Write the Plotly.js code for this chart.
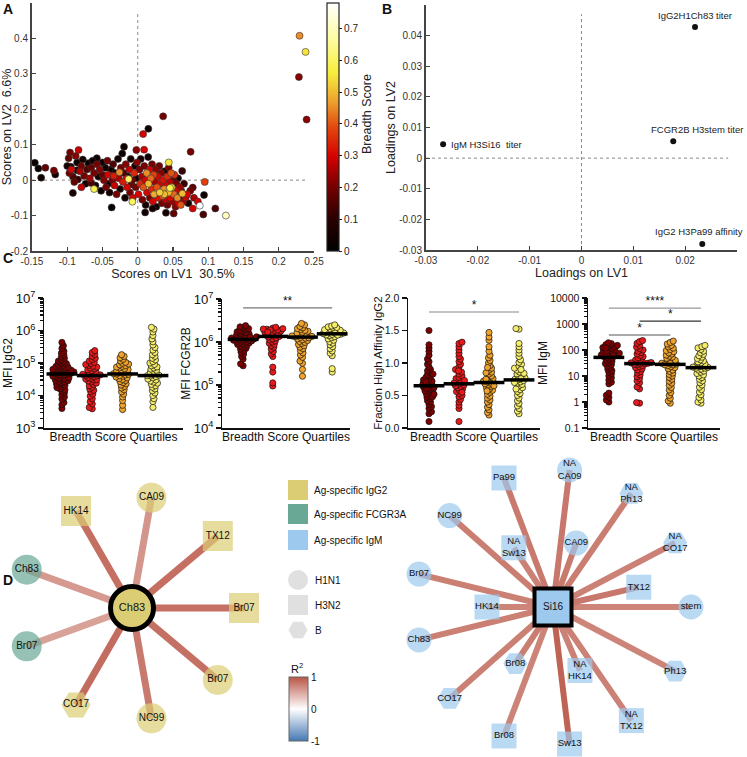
<!DOCTYPE html>
<html><head><meta charset="utf-8">
<script src="https://cdn.plot.ly/plotly-3.0.1.min.js"></script>
<style>html,body{margin:0;padding:0;background:#fff}#chart{width:747px;height:757px}</style>
</head><body><div id="chart"></div>
<script>
// ---------------- Panel A data (scores, breadth score) ----------------
const lv1Scores = [0.2295,0.238,0.2286,0.2395,0.036,0.015,0.0076,-0.0195,0.075,0.009,-0.002,-0.084,-0.096,-0.146,-0.141,-0.131,-0.119,-0.117,-0.137,-0.092,-0.062,-0.037,-0.0076,0.0105,0.021,0.088,0.095,0.094,0.093,0.11,0.125,0.078,0.078,0.063,0.044,0.068,0.051,0.04,
-0.098,-0.1,-0.095,-0.097,-0.092,-0.094,-0.088,-0.086,-0.09,-0.085,-0.082,-0.08,-0.078,-0.076,-0.074,-0.072,-0.07,-0.068,-0.066,-0.064,-0.062,-0.06,-0.058,-0.056,-0.054,-0.052,-0.05,-0.05,-0.086,-0.08,-0.066,-0.058,
-0.048,-0.046,-0.045,-0.043,-0.042,-0.04,-0.038,-0.036,-0.035,-0.033,-0.032,-0.03,-0.028,-0.027,-0.025,-0.024,-0.022,-0.021,-0.02,-0.018,-0.017,-0.015,-0.014,-0.012,-0.011,-0.01,-0.008,-0.007,-0.005,-0.004,-0.003,-0.002,-0.001,-0.042,-0.034,-0.016,-0.009,-0.026,-0.013,
0.001,0.0025,0.0035,0.0042,0.0058,0.0066,0.0079,0.0093,0.0104,0.0112,0.0127,0.0131,0.0148,0.0152,0.0167,0.0171,0.0185,0.0196,0.0203,0.0214,0.0226,0.0232,0.0241,0.0257,0.0263,0.0272,0.0286,0.0291,0.0305,0.0312,0.0318,0.0334,0.0342,0.0355,0.0359,0.0374,0.0381,0.0393,0.0402,0.0417,0.0421,0.0436,0.0439,0.0453,0.0461,0.0474,0.0482,0.0488,0.0503,0.0512,0.0519,0.0535,0.0541,0.0548,0.0562,0.0571,0.0579,0.0594,0.0604,0.0617,0.0643,0.0656,0.0702,0.0718,0.0745,0.0797,0.0852,0.0611,0.0632,0.0458,0.0377];
const lv2Scores = [0.4075,0.362,0.291,0.171,0.18,0.145,0.13,0.094,0.08,0.086,0.085,0.085,0.078,0.049,0.033,0.035,0.027,0.016,0.007,-0.036,-0.025,-0.077,-0.061,-0.091,-0.08,-0.072,-0.005,-0.042,-0.097,-0.08,-0.1,-0.08,-0.021,0.026,0.05,-0.049,-0.094,-0.092,
0.062,0.04,0.038,0.02,0.01,0.03,0.068,0.05,-0.005,0.002,0.025,0.04,0.058,0.012,-0.01,0.03,0.048,0.005,0.035,0.055,0.02,-0.015,0.045,0.01,0.03,-0.03,0.05,0.015,0.028,-0.02,-0.008,0.062,
0.0,0.035,-0.02,0.055,0.015,-0.035,0.03,0.0,0.045,-0.015,0.02,-0.04,0.06,0.005,-0.025,0.035,0.075,-0.005,0.02,-0.05,0.045,-0.02,0.01,0.03,-0.035,0.06,0.0,-0.05,0.02,0.04,-0.02,0.005,0.05,-0.01,0.012,0.004,-0.012,0.022,0.003,
-0.04,0.03,-0.01,0.06,0.01,-0.055,-0.02,0.04,0.0,-0.07,0.02,-0.035,0.065,-0.01,0.03,-0.05,0.005,-0.025,0.045,-0.06,0.015,-0.04,-0.005,0.03,-0.075,-0.02,0.01,-0.05,0.04,-0.035,-0.01,0.02,-0.065,-0.045,0.0,-0.025,0.025,-0.055,-0.015,0.01,-0.07,-0.035,0.035,-0.005,-0.05,0.02,-0.02,-0.06,0.0,-0.04,0.015,-0.075,-0.03,-0.01,-0.05,0.005,-0.065,-0.02,-0.045,-0.03,-0.06,-0.01,-0.04,-0.065,-0.03,-0.05,-0.06,-0.07,-0.038,-0.022,-0.04];
const breadthScores = [0.45,0.55,0.22,0.22,0.2,0.03,0.3,0.03,0.2,0.3,0.22,0.28,0.2,0.02,0.03,0.18,0.2,0.05,0.04,0.05,0.58,0.03,0.6,0.04,0.05,0.78,0.38,0.03,0.15,0.15,0.7,0.3,0.17,0.12,0.55,0.3,0.18,0.05,
0.18,0.05,0.04,0.2,0.15,0.3,0.22,0.03,0.18,0.12,0.25,0.2,0.05,0.2,0.05,0.15,0.03,0.25,0.18,0.04,0.2,0.05,0.2,0.04,0.22,0.03,0.05,0.18,0.03,0.28,0.15,0.03,
0.22,0.04,0.2,0.2,0.3,0.05,0.03,0.2,0.15,0.28,0.04,0.2,0.04,0.25,0.05,0.2,0.03,0.33,0.15,0.04,0.22,0.3,0.04,0.28,0.2,0.05,0.2,0.3,0.35,0.04,0.2,0.03,0.22,0.04,0.33,0.3,0.18,0.45,0.6,
0.3,0.2,0.35,0.05,0.25,0.2,0.4,0.2,0.3,0.05,0.45,0.3,0.04,0.5,0.3,0.2,0.42,0.35,0.2,0.3,0.38,0.48,0.25,0.22,0.04,0.4,0.3,0.32,0.2,0.52,0.3,0.22,0.2,0.4,0.32,0.45,0.05,0.28,0.3,0.35,0.2,0.5,0.2,0.28,0.3,0.4,0.55,0.25,0.18,0.42,0.35,0.22,0.3,0.2,0.45,0.05,0.3,0.25,0.04,0.2,0.25,0.12,0.3,0.05,0.2,0.25,0.3,0.4,0.5,0.58,0.5];
const breadthTicks = [0,0.1,0.2,0.3,0.4,0.5,0.6,0.7];

// ---------------- Panel B data (loadings) ----------------
const loadingNames = ['IgG2H1Ch83 titer','FCGR2B H3stem titer','IgM H3Si16\u00a0 titer','IgG2 H3Pa99 affinity'];
const loadingLV1 = [0.0219,0.0177,-0.0267,0.0233];
const loadingLV2 = [0.0428,0.0055,0.0045,-0.028];

// ---------------- Panel C data ----------------
const quartileNames = ['Q1','Q2','Q3','Q4'];
const igg2Q1 = [4.0e3,5.2e3,6.1e3,7.8e3,9.0e3,1.05e4,1.2e4,1.35e4,1.5e4,1.6e4,1.75e4,1.9e4,2.05e4,2.2e4,2.3e4,2.5e4,2.6e4,2.7e4,2.85e4,3.0e4,3.2e4,3.3e4,3.4e4,3.5e4,3.7e4,3.9e4,4.1e4,4.3e4,4.4e4,4.6e4,4.7e4,4.8e4,5.0e4,5.2e4,5.3e4,5.5e4,5.6e4,5.8e4,6.0e4,6.1e4,6.4e4,6.6e4,6.8e4,7.1e4,7.5e4,7.8e4,8.0e4,8.6e4,9.2e4,9.6e4,1.0e5,1.08e5,1.15e5,1.25e5,1.4e5,1.55e5,1.75e5,2.0e5,2.3e5,2.8e5,3.4e5,4.3e5];
const igg2Q2 = [3.9e3,4.3e3,5.5e3,6.5e3,8.0e3,9.5e3,1.1e4,1.3e4,1.45e4,1.6e4,1.8e4,2.0e4,2.2e4,2.4e4,2.6e4,2.8e4,3.0e4,3.1e4,3.2e4,3.4e4,3.6e4,3.8e4,4.0e4,4.1e4,4.2e4,4.3e4,4.5e4,4.8e4,5.1e4,5.4e4,5.8e4,6.2e4,6.6e4,7.0e4,7.5e4,8.0e4,8.5e4,9.0e4,9.7e4,1.05e5,1.15e5,1.28e5,1.4e5,1.6e5,1.85e5,2.1e5,2.4e5];
const igg2Q3 = [3.7e3,5.0e3,7.0e3,9.0e3,1.1e4,1.3e4,1.5e4,1.7e4,1.9e4,2.1e4,2.3e4,2.5e4,2.7e4,2.9e4,3.1e4,3.3e4,3.5e4,3.7e4,3.9e4,4.1e4,4.3e4,4.5e4,4.6e4,4.7e4,4.9e4,5.1e4,5.4e4,5.7e4,6.0e4,6.3e4,6.7e4,7.1e4,7.5e4,7.9e4,8.3e4,8.8e4,9.3e4,9.8e4,1.05e5,1.15e5,1.3e5,1.45e5,1.6e5,1.8e5];
const igg2Q4 = [4.3e3,6.5e3,8.0e3,1.0e4,1.2e4,1.4e4,1.6e4,1.8e4,2.0e4,2.2e4,2.4e4,2.6e4,2.8e4,3.0e4,3.2e4,3.5e4,3.8e4,4.0e4,4.1e4,4.2e4,4.5e4,4.8e4,5.2e4,5.6e4,6.0e4,6.5e4,7.0e4,7.6e4,8.2e4,9.0e4,1.0e5,1.1e5,1.25e5,1.4e5,1.6e5,1.8e5,2.1e5,2.5e5,3.0e5,3.6e5,4.5e5,5.5e5,7.0e5,9.0e5,1.1e6,1.25e6];
const igg2Medians = [4.6e4,4.1e4,4.6e4,4.1e4];

const fcgr2bQ1 = [2.8e5,3.1e5,4.0e5,4.6e5,5.2e5,5.8e5,6.3e5,6.8e5,7.2e5,7.6e5,8.0e5,8.4e5,8.8e5,9.2e5,9.5e5,9.8e5,1.0e6,1.03e6,1.06e6,1.09e6,1.12e6,1.15e6,1.18e6,1.21e6,1.24e6,1.28e6,1.32e6,1.36e6,1.4e6,1.45e6,1.5e6,1.55e6,1.6e6,1.66e6,1.72e6,1.8e6,1.88e6,1.96e6,2.05e6,2.15e6,2.25e6,2.4e6,1.1e6,1.2e6,1.3e6];
const fcgr2bQ2 = [9.5e4,1.12e5,2.0e5,2.6e5,4.6e5,5.3e5,6.0e5,6.8e5,7.5e5,8.2e5,8.8e5,9.4e5,1.0e6,1.06e6,1.12e6,1.18e6,1.24e6,1.3e6,1.35e6,1.4e6,1.45e6,1.5e6,1.56e6,1.62e6,1.68e6,1.74e6,1.8e6,1.86e6,1.92e6,1.98e6,2.04e6,2.1e6,2.2e6,1.9e6,2.0e6,1.7e6];
const fcgr2bQ3 = [1.6e5,2.3e5,3.2e5,3.6e5,4.4e5,5.0e5,5.6e5,6.3e5,7.0e5,7.6e5,8.2e5,8.8e5,9.3e5,9.8e5,1.03e6,1.08e6,1.13e6,1.18e6,1.23e6,1.28e6,1.33e6,1.38e6,1.44e6,1.5e6,1.56e6,1.63e6,1.7e6,1.78e6,1.86e6,1.95e6,2.05e6,2.15e6,2.3e6,2.5e6,2.7e6,1.25e6,1.35e6];
const fcgr2bQ4 = [2.0e5,2.4e5,4.8e5,5.5e5,6.2e5,7.0e5,7.8e5,8.6e5,9.4e5,1.02e6,1.1e6,1.18e6,1.26e6,1.33e6,1.4e6,1.46e6,1.52e6,1.57e6,1.62e6,1.67e6,1.72e6,1.77e6,1.82e6,1.88e6,1.94e6,2.0e6,2.08e6,2.16e6,2.25e6,2.35e6,2.5e6,1.5e6,1.6e6,1.45e6];
const fcgr2bMedians = [1.15e6,1.35e6,1.3e6,1.55e6];

const affinityQ1 = [0.1,0.22,0.25,0.3,0.33,0.36,0.4,0.42,0.45,0.47,0.5,0.52,0.54,0.56,0.58,0.6,0.62,0.63,0.65,0.67,0.68,0.7,0.72,0.74,0.76,0.78,0.8,0.82,0.85,0.88,0.9,0.94,0.98,1.02,1.06,1.12,1.18,1.23,1.28,1.5,0.57,0.61,0.66,0.71,0.48,0.52,0.83];
const affinityQ2 = [0.1,0.3,0.35,0.4,0.44,0.48,0.5,0.53,0.56,0.58,0.6,0.62,0.64,0.66,0.68,0.7,0.72,0.74,0.76,0.78,0.8,0.83,0.86,0.9,0.94,0.98,1.02,1.06,1.1,1.15,1.2,1.25,1.3,1.32,0.65,0.69,0.73,0.55,0.88];
const affinityQ3 = [0.2,0.24,0.28,0.32,0.36,0.4,0.43,0.46,0.49,0.52,0.55,0.58,0.6,0.62,0.64,0.66,0.68,0.7,0.72,0.74,0.76,0.78,0.8,0.83,0.86,0.89,0.92,0.96,1.0,1.04,1.08,1.12,1.18,1.25,1.35,1.4,1.47,0.69,0.71,0.75,0.65,0.57,0.85,0.93];
const affinityQ4 = [0.22,0.26,0.3,0.34,0.38,0.42,0.46,0.5,0.53,0.56,0.59,0.62,0.65,0.67,0.69,0.71,0.73,0.75,0.77,0.79,0.81,0.83,0.86,0.89,0.92,0.95,0.98,1.01,1.05,1.1,1.15,1.2,1.25,1.3,1.52,1.53,0.74,0.76,0.7,0.6,0.84,0.9];
const affinityMedians = [0.65,0.68,0.70,0.74];

const igmQ1 = [1.0,1.2,1.5,1.8,2.2,5.0,5.8,7.0,8.5,10,12,14,16,18,21,24,27,30,33,36,40,44,48,52,56,60,65,70,75,80,86,92,100,108,116,125,135,145,160,175,190,62,68,90,120,150];
const igmQ2 = [0.9,0.95,3.2,3.8,5.5,6.5,8.0,9.5,11,13,15,17,19,21,23,25,27,29,31,33,35,38,41,45,50,56,62,70,80,90,100,115,130,150,180,210,230,28,30,32];
const igmQ3 = [0.9,1.1,1.4,1.8,2.3,2.9,3.6,4.4,5.3,6.3,7.5,8.8,10,11.5,13,15,17,19,21,23,25,27,29,31,34,37,40,44,48,53,58,64,70,78,86,95,105,118,132,150,170,195,220,27,30];
const igmQ4 = [0.9,1.0,1.2,1.5,1.9,2.4,3.0,3.7,4.5,5.5,6.5,7.5,8.7,10,11,12.5,14,15.5,17,18.5,20,21.5,23,25,27,29,32,35,38,42,47,53,60,68,78,90,105,120,135,150,20,22];
const igmMedians = [52,30,28,21];

// ---------------- Panel D data ----------------
const leftHubLabel = 'Ch83';
const leftLabels = ['HK14','CA09','TX12','Br07','Br07','NC99','CO17','Br07','Ch83'];
const leftAssay = ['IgG2','IgG2','IgG2','IgG2','IgG2','IgG2','IgG2','FCGR3A','FCGR3A'];
const leftStrain = ['H3N2','H1N1','H3N2','H3N2','H1N1','H1N1','B','H1N1','H1N1'];
const leftR2 = [0.85,0.62,0.85,0.84,0.84,0.78,0.86,0.55,0.6];
const rightHubLabel = 'Si16';
const rightLabels = ['stem','NA<br>CO17','NA<br>Ph13','NA<br>CA09','Pa99','NC99','Br07','Ch83','CO17','Br08','Sw13','NA<br>TX12','Ph13','TX12','CA09','NA<br>Sw13','HK14','Br08','NA<br>HK14'];
const rightStrain = ['H1N1','B','B','H1N1','H3N2','H1N1','H1N1','H1N1','B','H3N2','H3N2','H3N2','B','H3N2','H1N1','H3N2','H3N2','B','H3N2'];
const rightR2 = [0.72,0.74,0.76,0.8,0.78,0.76,0.75,0.75,0.75,0.73,0.92,0.74,0.72,0.8,0.78,0.74,0.72,0.76,0.74];
const assayNames = ['Ag-specific IgG2','Ag-specific FCGR3A','Ag-specific IgM'];
const strainNames = ['H1N1','H3N2','B'];

// ---------------- styling / layout helpers ----------------
const W = 747, H = 757;
const FONT = 'Liberation Sans, Arial, sans-serif';
const dom = (a,b) => [a/W, b/W];
const vdom = (top,bot) => [1-bot/H, 1-top/H];
const assayColor = {IgG2:'#dbcd74', FCGR3A:'#6aa896', IgM:'#9dc9ee'};
const strainSymbol = {H1N1:'circle', H3N2:'square', B:'hexagon2'};
const quartileColors = ['#7e0000','#e8191b','#efa22c','#f6ee6a'];
const breadthScale = [[0,'#000000'],[0.13,'#2a0000'],[0.26,'#780000'],[0.38,'#d60000'],[0.5,'#e2480f'],[0.6,'#eca02e'],[0.72,'#f8ee3c'],[0.86,'#fdfda6'],[1,'#ffffff']];
function r2color(r){
  const c = r >= 0 ? [185,85,70] : [70,120,180]; const t = Math.abs(r);
  return 'rgb(' + c.map(v => Math.round(255 + (v-255)*t)).join(',') + ')';
}
const fmt = v => String(v);

const axA = {showline:true, linecolor:'#444', linewidth:2, ticks:'inside', ticklen:4, tickcolor:'#444', tickwidth:1.2,
  showgrid:false, zeroline:false, tickfont:{size:10,color:'#333'}};
const axC = {showline:true, linecolor:'#111', linewidth:1.5, ticks:'outside', ticklen:5, tickcolor:'#111', tickwidth:1.2,
  showgrid:false, zeroline:false, tickfont:{size:10.5,color:'#111'}};

const aX = [-0.15,-0.1,-0.05,0,0.05,0.1,0.15,0.2,0.25];
const aY = [-0.2,-0.1,0,0.1,0.2,0.3,0.4,0.5];
const bX = [-0.03,-0.02,-0.01,0,0.01,0.02,0.03];
const bY = [-0.03,-0.02,-0.01,0,0.01,0.02,0.03,0.04,0.05];

const layout = {
  width:W, height:H, margin:{l:0,r:0,t:0,b:0}, paper_bgcolor:'#fff', plot_bgcolor:'rgba(0,0,0,0)',
  showlegend:false, font:{family:FONT, color:'#222'},
  xaxis:{...axA, domain:dom(32,314), range:[-0.15,0.25], tickvals:aX, ticktext:aX.map(fmt), anchor:'y',
    title:{text:'Scores on LV1 \u00a030.5%', font:{size:12.5,color:'#222'}, standoff:3}},
  yaxis:{...axA, domain:vdom(3,251), range:[-0.2,0.5], tickvals:aY, ticktext:aY.map(fmt), anchor:'x',
    title:{text:'Scores on LV2 \u00a06.6%', font:{size:12.5,color:'#222'}, standoff:1}},
  xaxis2:{...axA, domain:dom(426,737), range:[-0.03,0.03], tickvals:bX, ticktext:bX.map(fmt), anchor:'y2',
    title:{text:'Loadings on LV1', font:{size:12.5,color:'#222'}, standoff:3}},
  yaxis2:{...axA, domain:vdom(5,250), range:[-0.03,0.05], tickvals:bY, ticktext:bY.map(fmt), anchor:'x2',
    title:{text:'Loadings on LV2', font:{size:12.5,color:'#222'}, standoff:1}},
  xaxis3:{...axC, domain:dom(44,183), range:[0.41,4.99], showticklabels:false, ticks:'', anchor:'y3',
    title:{text:'Breadth Score Quartiles', font:{size:12,color:'#111'}, standoff:4}},
  yaxis3:{...axC, type:'log', domain:vdom(298,428), range:[3,7], dtick:1, exponentformat:'power', anchor:'x3',
    minor:{ticks:'outside', ticklen:3, tickcolor:'#111', dtick:'D1'},
    title:{text:'MFI IgG2', font:{size:12,color:'#111'}, standoff:0}},
  xaxis4:{...axC, domain:dom(222,350), range:[0.29,4.6], showticklabels:false, ticks:'', anchor:'y4',
    title:{text:'Breadth Score Quartiles', font:{size:12,color:'#111'}, standoff:4}},
  yaxis4:{...axC, type:'log', domain:vdom(299,428), range:[4,7], dtick:1, exponentformat:'power', anchor:'x4',
    minor:{ticks:'outside', ticklen:3, tickcolor:'#111', dtick:'D1'},
    title:{text:'MFI FCGR2B', font:{size:12,color:'#111'}, standoff:0}},
  xaxis5:{...axC, domain:dom(408,540), range:[0.3,4.7], showticklabels:false, ticks:'', anchor:'y5',
    title:{text:'Breadth Score Quartiles', font:{size:12,color:'#111'}, standoff:4}},
  yaxis5:{...axC, domain:vdom(298,428), range:[0,2], dtick:0.5, tickformat:'.1f', anchor:'x5',
    title:{text:'Fraction High Affinity IgG2', font:{size:11.5,color:'#111'}, standoff:0}},
  xaxis6:{...axC, domain:dom(588,720), range:[0.32,4.62], showticklabels:false, ticks:'', anchor:'y6',
    title:{text:'Breadth Score Quartiles', font:{size:12,color:'#111'}, standoff:4}},
  yaxis6:{...axC, type:'log', domain:vdom(298,428), range:[-1,4], tickvals:[0.1,1,10,100,1000,10000],
    ticktext:['0.1','1','10','100','1000','10000'], anchor:'x6',
    minor:{ticks:'outside', ticklen:3, tickcolor:'#111', dtick:'D1'},
    title:{text:'MFI IgM', font:{size:12,color:'#111'}, standoff:0}},
  xaxis7:{domain:[0,1], range:[0,W], visible:false, fixedrange:true, anchor:'y7'},
  yaxis7:{domain:[0,1], range:[H,0], visible:false, fixedrange:true, anchor:'x7'},
  annotations:[], 
};

const traces = [];
const ann = layout.annotations;
// panel letters
[['A',8,9],['B',387,9],['C',8,258],['D',8,580]].forEach(([t,x,y]) => ann.push({text:'<b>'+t+'</b>', xref:'x7', yref:'y7', x:x, y:y,
  xanchor:'center', yanchor:'middle', showarrow:false, font:{size:14,color:'#111',family:FONT}}));

// ---------- Panel A ----------
traces.push({type:'scatter', mode:'lines', x:[0,0], y:[-0.2,0.47], xaxis:'x', yaxis:'y', line:{color:'#888',width:1,dash:'dot'}, hoverinfo:'skip'});
traces.push({type:'scatter', mode:'lines', x:[-0.15,0.24], y:[0,0], xaxis:'x', yaxis:'y', line:{color:'#888',width:1,dash:'dot'}, hoverinfo:'skip'});
const orderA = breadthScores.map((v,i)=>i).sort((a,b)=>breadthScores[a]-breadthScores[b]);
traces.push({type:'scatter', mode:'markers', xaxis:'x', yaxis:'y',
  x:orderA.map(i=>lv1Scores[i]), y:orderA.map(i=>lv2Scores[i]),
  marker:{size:7, color:orderA.map(i=>breadthScores[i]), colorscale:breadthScale, cmin:0, cmax:0.78,
    line:{width:0.6,color:'#333'}, showscale:true,
    colorbar:{x:327/W, xanchor:'left', xpad:0, y:1-127/H, yanchor:'middle', ypad:0, len:248, lenmode:'pixels',
      thickness:12, thicknessmode:'pixels', outlinewidth:1.2, outlinecolor:'#222', tickvals:breadthTicks,
      ticktext:breadthTicks.map(fmt), ticks:'outside', ticklen:3, tickcolor:'#222', tickfont:{size:10,color:'#222'}}}});
ann.push({text:'Breadth Score', xref:'x7', yref:'y7', x:367, y:114, textangle:-90, showarrow:false,
  font:{size:12.5,color:'#222'}, xanchor:'center', yanchor:'middle'});

// ---------- Panel B ----------
traces.push({type:'scatter', mode:'lines', x:[0,0], y:[-0.03,0.047], xaxis:'x2', yaxis:'y2', line:{color:'#888',width:1,dash:'dot'}, hoverinfo:'skip'});
traces.push({type:'scatter', mode:'lines', x:[-0.03,0.0283], y:[0,0], xaxis:'x2', yaxis:'y2', line:{color:'#888',width:1,dash:'dot'}, hoverinfo:'skip'});
traces.push({type:'scatter', mode:'markers', x:loadingLV1, y:loadingLV2, xaxis:'x2', yaxis:'y2', marker:{size:6,color:'#111'}});
const labelOffsets = [[0,12,'center'],[24,12,'center'],[6,0,'left'],[-3,12,'center']];
loadingNames.forEach((n,i) => ann.push({text:n, xref:'x2', yref:'y2', x:loadingLV1[i], y:loadingLV2[i], showarrow:false,
  xshift:labelOffsets[i][0], yshift:labelOffsets[i][1], xanchor:labelOffsets[i][2], yanchor:'middle', font:{size:9.5,color:'#222'}}));

// ---------- Panel C ----------
const cPanels = [
  {n:'3', groups:[igg2Q1,igg2Q2,igg2Q3,igg2Q4], med:igg2Medians},
  {n:'4', groups:[fcgr2bQ1,fcgr2bQ2,fcgr2bQ3,fcgr2bQ4], med:fcgr2bMedians},
  {n:'5', groups:[affinityQ1,affinityQ2,affinityQ3,affinityQ4], med:affinityMedians},
  {n:'6', groups:[igmQ1,igmQ2,igmQ3,igmQ4], med:igmMedians},
];
function swarm(vals, toPx, dMin){
  const idx = vals.map((v,i)=>i).sort((a,b)=>vals[a]-vals[b]);
  const placed = []; const off = new Array(vals.length);
  let flip = 1;
  for (const i of idx){
    const py = toPx(vals[i]); let best = null;
    for (let k=0; k<400 && best===null; k++){
      const cands = k===0 ? [0] : [flip*k*0.5, -flip*k*0.5];
      for (const c of cands){
        let ok = true;
        for (const p of placed){ const dx=p.x-c, dy=p.y-py; if (dx*dx+dy*dy < dMin*dMin){ ok=false; break; } }
        if (ok){ best=c; break; }
      }
    }
    flip = -flip;
    placed.push({x:best,y:py}); off[i]=best;
  }
  return off;
}
cPanels.forEach(p => {
  const xa = layout['xaxis'+p.n], ya = layout['yaxis'+p.n];
  const wpx = (xa.domain[1]-xa.domain[0])*W, hpx = (ya.domain[1]-ya.domain[0])*H;
  const ppu = wpx/(xa.range[1]-xa.range[0]);
  const isLog = ya.type==='log';
  const toPx = v => ((isLog?Math.log10(v):v) - ya.range[0])/(ya.range[1]-ya.range[0])*hpx;
  p.groups.forEach((g,gi) => {
    const off = swarm(g, toPx, 3.0);
    traces.push({type:'scatter', mode:'markers', xaxis:'x'+p.n, yaxis:'y'+p.n,
      x:g.map((v,i)=>gi+1+off[i]/ppu), y:g, name:quartileNames[gi],
      marker:{size:6.2, color:quartileColors[gi], line:{width:0.7,color:'#111'}}});
  });
  traces.push({type:'scatter', mode:'markers', xaxis:'x'+p.n, yaxis:'y'+p.n, x:[1,2,3,4], y:p.med,
    marker:{symbol:'line-ew', size:22, line:{width:3.5,color:'#000'}}});
});
// significance bars
const sig = [
  {n:'4', x0:1, x1:4, y:6.2e6, t:'**', c:'#777'},
  {n:'5', x0:1, x1:4, y:1.785, t:'*', c:'#888'},
  {n:'6', x0:1, x1:4, y:4100, t:'****', c:'#999'},
  {n:'6', x0:2, x1:4, y:1300, t:'*', c:'#333'},
  {n:'6', x0:1, x1:3, y:378, t:'*', c:'#555'},
];
sig.forEach(s => {
  traces.push({type:'scatter', mode:'lines', xaxis:'x'+s.n, yaxis:'y'+s.n, x:[s.x0,s.x1], y:[s.y,s.y], line:{color:s.c,width:1.2}, hoverinfo:'skip'});
  traces.push({type:'scatter', mode:'text', xaxis:'x'+s.n, yaxis:'y'+s.n, x:[(s.x0+s.x1)/2], y:[s.y], text:[s.t], cliponaxis:false,
    textposition:'top center', textfont:{size:12,color:'#111'}, hoverinfo:'skip'});
});

// ---------- Panel D ----------
const leftCenter = [132,608], rightCenter = [553,607];
const leftAngles = [120,80,40,0,-40,-80,-120,-160,160];
const leftRadii = leftAngles.map(()=>112);
const rightAngles = [0,27.7,55.4,83.1,110.8,138.5,166.2,-166.2,-138.5,-110.8,-83.1,-55.4,-27.7,13,70,123.5,180,-123.7,-67];
const rightRadii = [138,138,138,138,138,138,138,138,138,138,138,138,138,88,68,71,66,68,69];
const pos = (c,a,r) => [c[0]+r*Math.cos(a*Math.PI/180), c[1]-r*Math.sin(a*Math.PI/180)];
function network(center, labels, assays, strains, r2, angles, radii, edgeW, nodeSize, fontSize){
  const P = labels.map((l,i)=>pos(center, angles[i], radii[i]));
  P.forEach((p,i) => traces.push({type:'scatter', mode:'lines', xaxis:'x7', yaxis:'y7', x:[center[0],p[0]], y:[center[1],p[1]],
    line:{color:r2color(r2[i]), width:edgeW}, hoverinfo:'skip'}));
  traces.push({type:'scatter', mode:'markers+text', xaxis:'x7', yaxis:'y7', x:P.map(p=>p[0]), y:P.map(p=>p[1]), text:labels,
    textposition:'middle center', textfont:{size:fontSize,color:'#111'},
    marker:{size:strains.map(s=>s==='B'?nodeSize-1:nodeSize), symbol:strains.map(s=>strainSymbol[s]),
      color:assays.map(a=>assayColor[a]), line:{width:0}}});
}
network(leftCenter, leftLabels, leftAssay, leftStrain, leftR2, leftAngles, leftRadii, 7, 30, 10);
network(rightCenter, rightLabels, rightLabels.map(()=> 'IgM'), rightStrain, rightR2, rightAngles, rightRadii, 6, 25, 9.5);
traces.push({type:'scatter', mode:'markers+text', xaxis:'x7', yaxis:'y7', x:[leftCenter[0]], y:[leftCenter[1]], text:[leftHubLabel],
  textposition:'middle center', textfont:{size:11,color:'#111'}, marker:{size:43, symbol:'circle', color:assayColor.IgG2, line:{width:5,color:'#000'}}});
traces.push({type:'scatter', mode:'markers+text', xaxis:'x7', yaxis:'y7', x:[rightCenter[0]], y:[rightCenter[1]], text:[rightHubLabel],
  textposition:'middle center', textfont:{size:10,color:'#111'}, marker:{size:37, symbol:'square', color:assayColor.IgM, line:{width:4,color:'#000'}}});

// legend (assay colours, strain shapes)
const legX = 298, legTextX = 312;
const assayLegY = [490,514,540], strainLegY = [580,605,630];
traces.push({type:'scatter', mode:'markers', xaxis:'x7', yaxis:'y7', x:assayLegY.map(()=>legX), y:assayLegY,
  marker:{size:20, symbol:'square', color:[assayColor.IgG2, assayColor.FCGR3A, assayColor.IgM], line:{width:0}}});
traces.push({type:'scatter', mode:'markers', xaxis:'x7', yaxis:'y7', x:strainLegY.map(()=>legX), y:strainLegY,
  marker:{size:[20,20,19], symbol:strainNames.map(s=>strainSymbol[s]), color:'#d3d3d3', line:{width:0}}});
assayNames.forEach((t,i)=>ann.push({text:t, xref:'x7', yref:'y7', x:legTextX, y:assayLegY[i], xanchor:'left', yanchor:'middle', showarrow:false, font:{size:10,color:'#111'}}));
strainNames.forEach((t,i)=>ann.push({text:t, xref:'x7', yref:'y7', x:legTextX+1, y:strainLegY[i], xanchor:'left', yanchor:'middle', showarrow:false, font:{size:10,color:'#111'}}));
// R2 colour bar
traces.push({type:'scatter', mode:'markers', xaxis:'x7', yaxis:'y7', x:[298,298], y:[700,710], hoverinfo:'skip',
  marker:{size:1, opacity:0, color:[-1,1], cmin:-1, cmax:1,
    colorscale:[[0,'rgb(70,120,180)'],[0.5,'rgb(255,255,255)'],[1,'rgb(185,85,70)']], showscale:true,
    colorbar:{x:289/W, xanchor:'left', xpad:0, y:1-709/H, yanchor:'middle', ypad:0, len:64, lenmode:'pixels', thickness:19,
      thicknessmode:'pixels', outlinewidth:1, outlinecolor:'#666', tickvals:[-1,0,1], ticktext:['-1','0','1'], ticks:'',
      tickfont:{size:10,color:'#111'}}}});
ann.push({text:'R<sup>2</sup>', xref:'x7', yref:'y7', x:297, y:668, showarrow:false, xanchor:'center', yanchor:'middle', font:{size:11,color:'#111'}});

Plotly.newPlot('chart', traces, layout, {staticPlot:true, displayModeBar:false});
</script></body></html>
